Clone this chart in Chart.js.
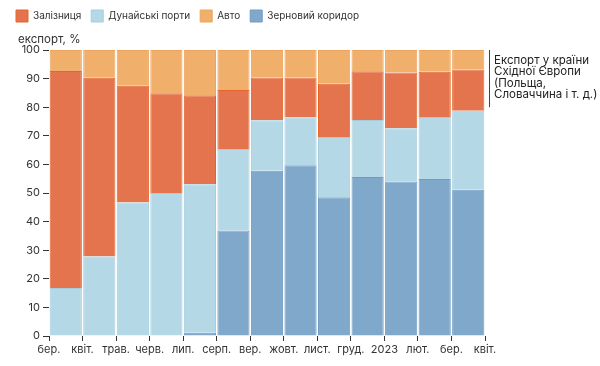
<!DOCTYPE html>
<html>
<head>
<meta charset="utf-8">
<script src="https://cdn.jsdelivr.net/npm/chart.js@4"></script>
<style>
  html, body { margin: 0; padding: 0; background: #fff; }
  #wrap { width: 600px; height: 366px; }
</style>
</head>
<body>
<div id="wrap"><canvas id="c" width="600" height="366"></canvas></div>
<script>
// Months (bars): Mar 2022 .. Mar 2023
const months = ['бер. 2022','квіт.','трав.','черв.','лип.','серп.','вер.','жовт.','лист.','груд.','січ. 2023','лют.','бер. 2023'];
// Tick labels at month boundaries
const tickLabels = ['бер.','квіт.','трав.','черв.','лип.','серп.','вер.','жовт.','лист.','груд.','2023','лют.','бер.','квіт.'];
// Shares of export, %
const grain  = [0, 0, 0, 0, 1.1, 36.9, 57.8, 59.7, 48.5, 55.6, 54.0, 54.9, 51.1];
const danube = [16.8, 27.8, 46.7, 50.0, 52.0, 28.2, 17.6, 16.8, 20.8, 19.9, 18.6, 21.4, 27.7];
const rail   = [75.9, 62.5, 40.8, 34.9, 31.1, 20.9, 15.0, 13.9, 18.9, 17.1, 19.5, 16.1, 14.4];
const auto   = [7.3, 9.7, 12.5, 15.1, 15.8, 14.0, 9.6, 9.6, 11.8, 7.4, 7.9, 7.6, 6.8];
const legendOrder = ['Залізниця','Дунайські порти','Авто','Зерновий коридор'];
const yTitle = 'експорт, %';
const noteLines = ['Експорт у країни','Східної Європи','(Польща,','Словаччина і т. д.)'];

const FONT = 'Inter, "Liberation Sans", sans-serif';

const legendFit = {
  id: 'legendFit',
  beforeInit(chart) {
    const orig = chart.legend.fit;
    chart.legend.fit = function () {
      orig.call(this);
      this.height = 50;
    };
  }
};

const extras = {
  id: 'extras',
  afterDraw(chart) {
    const ctx = chart.ctx;
    const area = chart.chartArea;
    ctx.save();
    ctx.fillStyle = '#333';
    ctx.font = '11.5px ' + FONT;
    ctx.textAlign = 'left';
    ctx.textBaseline = 'middle';
    ctx.fillText(yTitle, 18, 40);
    // annotation
    const yScale = chart.scales.y;
    const y1 = yScale.getPixelForValue(100);
    const y2 = yScale.getPixelForValue(80);
    ctx.strokeStyle = '#444';
    ctx.lineWidth = 1;
    ctx.beginPath();
    ctx.moveTo(area.right + 4.5, y1);
    ctx.lineTo(area.right + 4.5, y2);
    ctx.stroke();
    ctx.fillStyle = '#222';
    ctx.font = '11.5px ' + FONT;
    noteLines.forEach((t, i) => ctx.fillText(t, area.right + 9, y1 + 10.5 + i * 11.3));
    ctx.restore();
  }
};

const mk = (label, data, bg, bd) => ({
  label, data, backgroundColor: bg, borderColor: bd, borderWidth: 1,
  barPercentage: 0.96, categoryPercentage: 1, xAxisID: 'x', yAxisID: 'y'
});

new Chart(document.getElementById('c'), {
  type: 'bar',
  data: {
    labels: months,
    datasets: [
      mk('Зерновий коридор', grain, 'rgb(127,168,203)', 'rgb(112,156,196)'),
      mk('Дунайські порти', danube, 'rgb(180,216,230)', 'rgb(165,205,222)'),
      mk('Залізниця', rail, 'rgb(228,116,78)', 'rgb(230,100,40)'),
      mk('Авто', auto, 'rgb(240,176,108)', 'rgb(236,165,95)')
    ]
  },
  options: {
    responsive: false,
    animation: false,
    layout: { padding: { left: 6, right: 115, top: 0, bottom: 0 } },
    plugins: {
      legend: {
        display: true,
        position: 'top',
        align: 'start',
        labels: {
          boxWidth: 12, boxHeight: 12, padding: 10,
          color: '#333',
          font: { size: 10, family: FONT },
          sort: (a, b) => legendOrder.indexOf(a.text) - legendOrder.indexOf(b.text)
        }
      },
      tooltip: { enabled: false }
    },
    scales: {
      x: {
        type: 'category', stacked: true, display: false, offset: true,
        grid: { display: false }
      },
      xt: {
        type: 'linear', position: 'bottom', min: 0, max: 13, offset: false,
        afterFit(s) { s.height = 30; },
        ticks: {
          stepSize: 1, autoSkip: false, maxRotation: 0, padding: 2,
          color: '#333', font: { size: 11, family: FONT },
          callback: (v) => tickLabels[v]
        },
        afterBuildTicks(s) { s.ticks = tickLabels.map((_, i) => ({ value: i })); },
        grid: { drawOnChartArea: false, offset: false, tickLength: 5, color: '#333' },
        border: { display: false }
      },
      y: {
        stacked: true, min: 0, max: 100,
        afterFit(s) { s.width = 43; },
        ticks: { stepSize: 10, padding: 3, color: '#333', font: { size: 11, family: FONT } },
        grid: { drawOnChartArea: false, tickLength: 6, color: '#333' },
        border: { display: false }
      }
    }
  },
  plugins: [legendFit, extras]
});
</script>
</body>
</html>
